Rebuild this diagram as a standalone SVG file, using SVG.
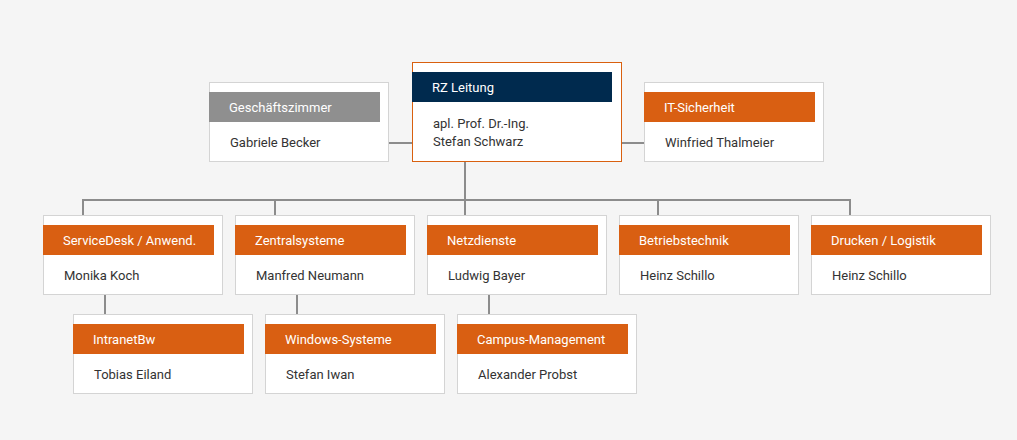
<svg xmlns="http://www.w3.org/2000/svg" width="1017" height="440" viewBox="0 0 1017 440">
<style>
.bg{fill:#f5f5f5}
.box{fill:#ffffff;stroke:#d4d4d4;stroke-width:1}
.lead{fill:#ffffff;stroke:#d9600f;stroke-width:1}
.hdr{fill:#d95f12}
.hdr-navy{fill:#002a4e}
.hdr-grey{fill:#8f8f8f}
.ht{font-family:Roboto,"Liberation Sans",sans-serif;font-size:13px;fill:#ffffff}
.nt{font-family:Roboto,"Liberation Sans",sans-serif;font-size:13px;fill:#333333}
.conn{stroke:#8c8c8c;stroke-width:2;fill:none}
</style>
<rect class="bg" x="0" y="0" width="1017" height="440"/>
<g id="connectors">
<line class="conn" x1="388" y1="143" x2="413" y2="143"/>
<line class="conn" x1="621" y1="143" x2="645" y2="143"/>
<line class="conn" x1="465" y1="162" x2="465" y2="215"/>
<line class="conn" x1="82" y1="200" x2="851" y2="200"/>
<line class="conn" x1="83" y1="200" x2="83" y2="215"/>
<line class="conn" x1="275" y1="200" x2="275" y2="215"/>
<line class="conn" x1="658" y1="200" x2="658" y2="215"/>
<line class="conn" x1="850" y1="200" x2="850" y2="215"/>
<line class="conn" x1="105" y1="295" x2="105" y2="314"/>
<line class="conn" x1="297" y1="295" x2="297" y2="314"/>
<line class="conn" x1="489" y1="295" x2="489" y2="314"/>
</g>
<g id="geschaeftszimmer">
<rect class="box" x="209.5" y="82.5" width="179" height="79"/>
<rect class="hdr-grey" x="209" y="92" width="171" height="30"/>
<text class="ht" x="229" y="111.5">Geschäftszimmer</text>
<text class="nt" x="230" y="146.5">Gabriele Becker</text>
</g>
<g id="rz-leitung">
<rect class="lead" x="412.5" y="62.5" width="209" height="99"/>
<rect class="hdr-navy" x="412" y="72" width="200" height="30"/>
<text class="ht" x="432" y="91.5">RZ Leitung</text>
<text class="nt" x="433" y="127.5">apl. Prof. Dr.-Ing.</text>
<text class="nt" x="433" y="145.5">Stefan Schwarz</text>
</g>
<g id="it-sicherheit">
<rect class="box" x="644.5" y="82.5" width="179" height="79"/>
<rect class="hdr" x="644" y="92" width="171" height="30"/>
<text class="ht" x="664" y="111.5">IT-Sicherheit</text>
<text class="nt" x="665" y="146.5">Winfried Thalmeier</text>
</g>
<g id="servicedesk">
<rect class="box" x="43.5" y="215.5" width="179" height="79"/>
<rect class="hdr" x="43" y="225" width="171" height="30"/>
<text class="ht" x="63" y="244.5">ServiceDesk / Anwend.</text>
<text class="nt" x="64" y="280">Monika Koch</text>
</g>
<g id="zentralsysteme">
<rect class="box" x="235.5" y="215.5" width="179" height="79"/>
<rect class="hdr" x="235" y="225" width="171" height="30"/>
<text class="ht" x="255" y="244.5">Zentralsysteme</text>
<text class="nt" x="256" y="280">Manfred Neumann</text>
</g>
<g id="netzdienste">
<rect class="box" x="427.5" y="215.5" width="179" height="79"/>
<rect class="hdr" x="427" y="225" width="171" height="30"/>
<text class="ht" x="447" y="244.5">Netzdienste</text>
<text class="nt" x="448" y="280">Ludwig Bayer</text>
</g>
<g id="betriebstechnik">
<rect class="box" x="619.5" y="215.5" width="179" height="79"/>
<rect class="hdr" x="619" y="225" width="171" height="30"/>
<text class="ht" x="639" y="244.5">Betriebstechnik</text>
<text class="nt" x="640" y="280">Heinz Schillo</text>
</g>
<g id="drucken-logistik">
<rect class="box" x="811.5" y="215.5" width="179" height="79"/>
<rect class="hdr" x="811" y="225" width="171" height="30"/>
<text class="ht" x="831" y="244.5">Drucken / Logistik</text>
<text class="nt" x="832" y="280">Heinz Schillo</text>
</g>
<g id="intranetbw">
<rect class="box" x="73.5" y="314.5" width="179" height="79"/>
<rect class="hdr" x="73" y="324" width="171" height="30"/>
<text class="ht" x="93" y="343.5">IntranetBw</text>
<text class="nt" x="94" y="379">Tobias Eiland</text>
</g>
<g id="windows-systeme">
<rect class="box" x="265.5" y="314.5" width="179" height="79"/>
<rect class="hdr" x="265" y="324" width="171" height="30"/>
<text class="ht" x="285" y="343.5">Windows-Systeme</text>
<text class="nt" x="286" y="379">Stefan Iwan</text>
</g>
<g id="campus-management">
<rect class="box" x="457.5" y="314.5" width="179" height="79"/>
<rect class="hdr" x="457" y="324" width="171" height="30"/>
<text class="ht" x="477" y="343.5">Campus-Management</text>
<text class="nt" x="478" y="379">Alexander Probst</text>
</g>
</svg>
